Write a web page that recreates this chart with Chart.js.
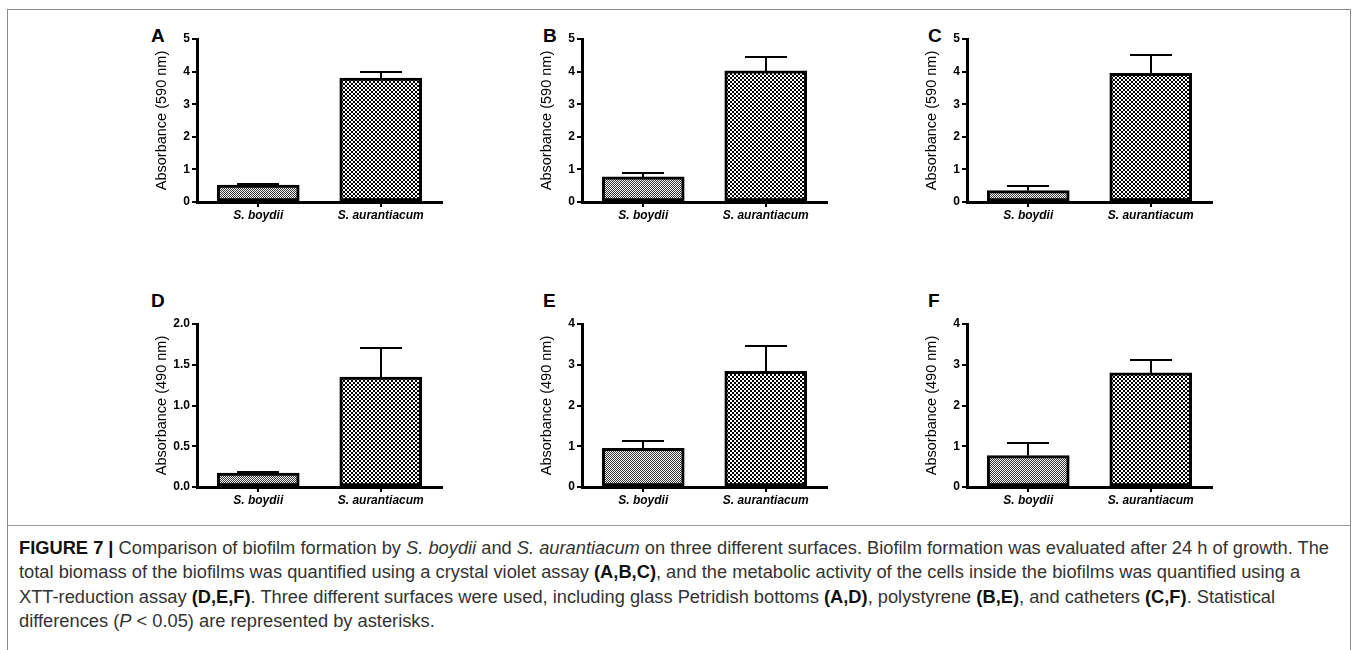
<!DOCTYPE html>
<html><head><meta charset="utf-8">
<script src="https://cdn.jsdelivr.net/npm/chart.js@4.4.1/dist/chart.umd.min.js"></script>
<style>
html,body{margin:0;padding:0;background:#fff;width:1358px;height:650px;overflow:hidden;position:relative;}
#frame{position:absolute;left:7px;top:9px;width:1344px;height:660px;border:1px solid #8a8a8a;box-sizing:border-box;}
#sep{position:absolute;left:7px;top:525px;width:1344px;height:0;border-top:1px solid #9a9a9a;}
.panel{position:absolute;}
.letter{position:absolute;font:bold 19px Arial,"Liberation Sans",sans-serif;line-height:19px;color:#000;}
#caption{position:absolute;left:19px;top:536px;font-family:Arial,"Liberation Sans",sans-serif;font-size:17.5px;line-height:24.4px;color:#333;transform-origin:0 0;white-space:nowrap;}
#caption b{color:#111;}
</style>
</head><body>
<div id="frame"></div>
<div id="sep"></div>
<div id="caption">
<div id="cl1"><b>FIGURE 7 |</b> Comparison of biofilm formation by <i>S. boydii</i> and <i>S. aurantiacum</i> on three different surfaces. Biofilm formation was evaluated after 24 h of growth. The</div>
<div>total biomass of the biofilms was quantified using a crystal violet assay <b>(A,B,C)</b>, and the metabolic activity of the cells inside the biofilms was quantified using a</div>
<div>XTT-reduction assay <b>(D,E,F)</b>. Three different surfaces were used, including glass Petridish bottoms <b>(A,D)</b>, polystyrene <b>(B,E)</b>, and catheters <b>(C,F)</b>. Statistical</div>
<div>differences (<i>P</i> &lt; 0.05) are represented by asterisks.</div>
</div>
<script>
// ---------- DATA ----------
const categories = ['S. boydii', 'S. aurantiacum'];
const meansA = [0.52, 3.80];  const errA = [0.04, 0.20];
const meansB = [0.77, 4.02];  const errB = [0.12, 0.43];
const meansC = [0.35, 3.95];  const errC = [0.15, 0.55];
const meansD = [0.17, 1.35];  const errD = [0.01, 0.35];
const meansE = [0.95, 2.84];  const errE = [0.17, 0.62];
const meansF = [0.77, 2.80];  const errF = [0.30, 0.31];
const tickLabels5 = ['0', '1', '2', '3', '4', '5'];
const tickLabels2 = ['0.0', '0.5', '1.0', '1.5', '2.0'];
const tickLabels4 = ['0', '1', '2', '3', '4'];
const title590 = 'Absorbance (590 nm)';
const title490 = 'Absorbance (490 nm)';
const panelLetters = ['A', 'B', 'C', 'D', 'E', 'F'];

// ---------- PATTERNS ----------
function checker(cell, dark, light) {
  const c = document.createElement('canvas');
  c.width = cell * 2; c.height = cell * 2;
  const g = c.getContext('2d');
  g.fillStyle = light; g.fillRect(0, 0, c.width, c.height);
  g.fillStyle = dark;
  g.fillRect(0, 0, cell, cell); g.fillRect(cell, cell, cell, cell);
  return g.createPattern(c, 'repeat');
}

// ---------- ERROR BAR PLUGIN ----------
const errorBarPlugin = {
  id: 'errbars',
  afterDatasetsDraw(chart, args, opts) {
    const meta = chart.getDatasetMeta(0);
    const y = chart.scales.y;
    const vals = chart.data.datasets[0].data;
    const ctx = chart.ctx;
    ctx.save();
    ctx.strokeStyle = '#000';
    ctx.lineWidth = 2;
    meta.data.forEach((bar, i) => {
      const top = Math.round(y.getPixelForValue(vals[i] + opts.errors[i]));
      const base = y.getPixelForValue(vals[i]);
      const x = Math.round(bar.x);
      ctx.beginPath();
      ctx.moveTo(x, base); ctx.lineTo(x, top);
      ctx.moveTo(x - 21, top); ctx.lineTo(x + 21, top);
      ctx.stroke();
    });
    ctx.restore();
  }
};

Chart.defaults.font.family = 'Arial, "Liberation Sans", Helvetica, sans-serif';
Chart.defaults.color = '#000';
Chart.defaults.animation = false;

// ---------- PANELS ----------
const panels = [
  {means: meansA, errs: errA, max: 5, step: 1,   ticks: tickLabels5, title: title590, ax: 197, at: 39,  lx: 151, ly: 26},
  {means: meansB, errs: errB, max: 5, step: 1,   ticks: tickLabels5, title: title590, ax: 582, at: 39,  lx: 543, ly: 26},
  {means: meansC, errs: errC, max: 5, step: 1,   ticks: tickLabels5, title: title590, ax: 967, at: 39,  lx: 928, ly: 26},
  {means: meansD, errs: errD, max: 2, step: 0.5, ticks: tickLabels2, title: title490, ax: 197, at: 324, lx: 151, ly: 291},
  {means: meansE, errs: errE, max: 4, step: 1,   ticks: tickLabels4, title: title490, ax: 582, at: 324, lx: 543, ly: 291},
  {means: meansF, errs: errF, max: 4, step: 1,   ticks: tickLabels4, title: title490, ax: 967, at: 324, lx: 928, ly: 291}
];

const PAD_L = 50, PAD_T = 12, PLOT_H = 163, PAD_B = 30, PLOT_W = 245, PAD_R = 8;

panels.forEach((p, k) => {
  const letter = document.createElement('div');
  letter.className = 'letter';
  letter.textContent = panelLetters[k];
  letter.style.left = p.lx + 'px';
  letter.style.top = p.ly + 'px';
  document.body.appendChild(letter);

  const wrap = document.createElement('div');
  wrap.className = 'panel';
  const W = PAD_L + PLOT_W + PAD_R, H = PAD_T + PLOT_H + PAD_B;
  wrap.style.width = W + 'px'; wrap.style.height = H + 'px';
  wrap.style.left = (p.ax - PAD_L) + 'px';
  wrap.style.top = (p.at - PAD_T) + 'px';
  const cv = document.createElement('canvas');
  wrap.appendChild(cv);
  document.body.appendChild(wrap);

  const fine = checker(1, '#3a3a3a', '#f4f4f4');
  const coarse = checker(2, '#000000', '#ffffff');

  const chart = new Chart(cv, {
    type: 'bar',
    data: {
      labels: categories,
      datasets: [{
        data: p.means,
        backgroundColor: [fine, coarse],
        borderColor: '#000',
        borderWidth: 3,
        borderSkipped: false,
        barThickness: 82
      }]
    },
    options: {
      responsive: true,
      maintainAspectRatio: false,
      layout: {padding: {top: PAD_T, right: PAD_R, left: 0, bottom: 0}},
      plugins: {legend: {display: false}, tooltip: {enabled: false}, errbars: {errors: p.errs}},
      scales: {
        x: {
          offset: true,
          grid: {display: true, drawOnChartArea: false, drawTicks: true, tickLength: 5, offset: false, color: '#000', lineWidth: 2},
          border: {display: true, color: '#000', width: 3},
          ticks: {font: {size: 12, weight: 'bold', style: 'italic'}, padding: 1, maxRotation: 0},
          afterFit: s => { s.height = PAD_B; }
        },
        y: {
          min: 0, max: p.max,
          grid: {display: true, drawOnChartArea: false, drawTicks: true, tickLength: 5, color: '#000', lineWidth: 2},
          border: {display: true, color: '#000', width: 3},
          ticks: {stepSize: p.step, font: {size: 12, weight: 'bold'}, padding: 2,
                  callback: (v, i) => p.ticks[i]},
          title: {display: true, text: p.title, font: {size: 14.5}, padding: {top: 6, bottom: 0}},
          afterFit: s => { s.width = PAD_L; }
        }
      }
    },
    plugins: [errorBarPlugin]
  });
  const ca = chart.chartArea;
  wrap.style.left = (p.ax - ca.left) + 'px';
  wrap.style.top = (p.at - ca.top) + 'px';
});

// caption width fit
const cap = document.getElementById('caption');
const l1 = document.getElementById('cl1');
const r = document.createRange(); r.selectNodeContents(l1);
const tw = r.getBoundingClientRect().width;
cap.style.transform = 'scaleX(' + (1310 / tw) + ')';
</script>
</body></html>
